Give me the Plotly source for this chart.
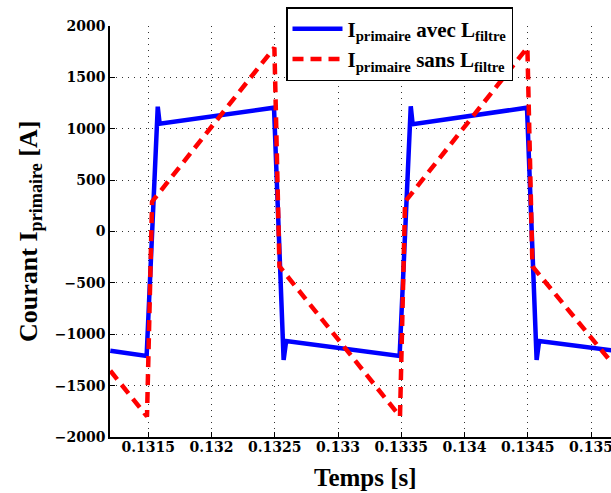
import plotly.graph_objects as go

# Blue: I_primaire avec L_filtre
blue_t = [0.13120, 0.131487, 0.131575, 0.131590, 0.132494, 0.132570, 0.132590,
          0.133487, 0.133575, 0.133590, 0.134494, 0.134570, 0.134590, 0.135160]
blue_i = [-1160, -1212, 1215, 1050, 1205, -1250, -1065,
          -1212, 1218, 1045, 1205, -1250, -1065, -1155]

# Red: I_primaire sans L_filtre
red_t = [0.13120, 0.131490, 0.131530, 0.132497, 0.132537,
         0.133490, 0.133530, 0.134497, 0.134537, 0.135160]
red_i = [-1355, -1800, 290, 1790, -340,
         -1800, 290, 1790, -340, -1270]

x_tickvals = [0.1315, 0.132, 0.1325, 0.133, 0.1335, 0.134, 0.1345, 0.135]
x_ticktext = ["0.1315", "0.132", "0.1325", "0.133", "0.1335", "0.134", "0.1345", "0.135"]
y_tickvals = [-2000, -1500, -1000, -500, 0, 500, 1000, 1500, 2000]

serif = "Liberation Serif"
tickfont = dict(family="DejaVu Serif", size=14, color="black", weight="bold")
titlefont = dict(family=serif, size=25, color="black", weight="bold")

L, T, W, H = 110, 26, 501, 411  # plot area in pixels

fig = go.Figure()
fig.add_trace(go.Scatter(
    x=blue_t, y=blue_i, mode="lines",
    line=dict(color="#0000FF", width=4.5),
    name="I<sub>primaire</sub> avec L<sub>filtre</sub>"))
fig.add_trace(go.Scatter(
    x=red_t, y=red_i, mode="lines",
    line=dict(color="#FF0000", width=4.5, dash="11px,7px"),
    name="I<sub>primaire</sub> sans L<sub>filtre</sub>"))

axis_common = dict(
    showgrid=True, gridcolor="#333333", gridwidth=1, griddash="1px,5px",
    showline=True, linecolor="black", linewidth=1.5, mirror=False,
    ticks="inside", ticklen=5, tickcolor="black", zeroline=False,
    tickfont=tickfont, automargin=False, ticklabeloverflow="allow",
)

fig.update_layout(
    width=611, height=493,
    margin=dict(l=L, r=611 - L - W, t=T, b=493 - T - H),
    paper_bgcolor="white", plot_bgcolor="white",
    showlegend=True,
    legend=dict(
        x=(286 - L) / W, y=(T + H - 7) / H, xanchor="left", yanchor="top",
        bgcolor="white", bordercolor="black", borderwidth=1.5,
        font=dict(family=serif, size=21, color="black", weight="bold"),
        itemwidth=50, tracegroupgap=0,
    ),
    xaxis=dict(
        range=[0.1311975, 0.135158],
        tickvals=x_tickvals, ticktext=x_ticktext,
        ticklabelstandoff=-4,
        **axis_common,
    ),
    yaxis=dict(
        range=[-2000, 2000],
        tickvals=y_tickvals,
        **axis_common,
    ),
    annotations=[
        dict(text="Temps [s]", xref="paper", yref="paper",
             x=(365 - L) / W, y=(T + H - 477) / H, xanchor="center", yanchor="middle",
             showarrow=False, font=titlefont),
        dict(text="Courant I<sub>primaire</sub> [A]", xref="paper", yref="paper",
             x=(30 - L) / W, y=(T + H - 232) / H, xanchor="center", yanchor="middle",
             textangle=-90, showarrow=False,
             font=dict(family=serif, size=26, color="black", weight="bold")),
    ],
)

fig.write_html("out.html", config={"displayModeBar": False},
               post_script="document.body.style.margin='0';")
